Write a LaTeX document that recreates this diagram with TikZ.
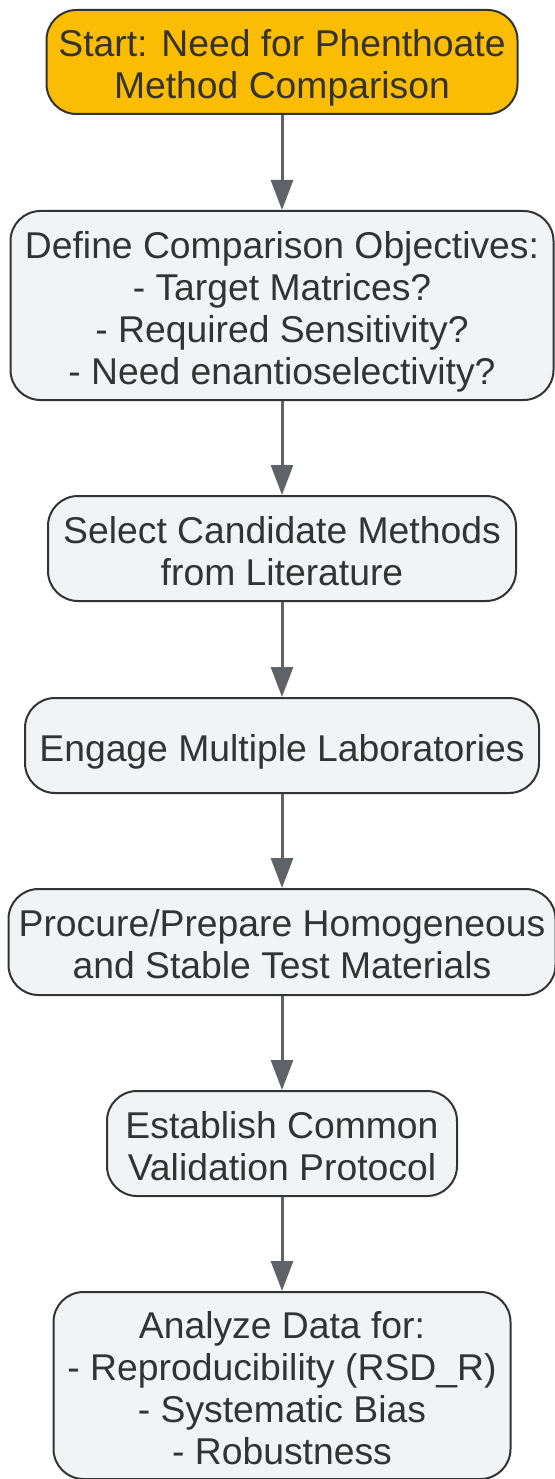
\documentclass[tikz,border=0pt]{standalone}
\usepackage{fontspec}
\setmainfont{Liberation Sans}
\usetikzlibrary{arrows.meta}
\definecolor{startfill}{HTML}{FBBC04}
\definecolor{boxfill}{HTML}{F1F3F4}
\definecolor{boxline}{HTML}{333333}
\definecolor{arrowgray}{HTML}{5F6368}
\tikzset{
  flowbox/.style={draw=boxline, line width=2pt, fill=boxfill, rounded corners=30pt,
    align=center, text=boxline, inner sep=0pt, font=\fontsize{37.3}{42}\selectfont,
    text depth=5.5pt},
  startbox/.style={flowbox, fill=startfill},
  oneline/.style={text height=36.5pt},
  twolines/.style={text height=78.5pt},
  fourlines/.style={text height=162.5pt},
  flowarrow/.style={draw=arrowgray, line width=3pt, -{Triangle[length=30pt,width=22pt]}}
}
\begin{document}
\begin{tikzpicture}[x=1pt,y=-1pt]
  \useasboundingbox (0,0) rectangle (554,1479);

  \node[startbox, twolines, minimum width=471pt, minimum height=104pt] (start) at (282,62)
    {Start: Need for Phenthoate\\Method Comparison};
  \node[flowbox, fourlines, minimum width=543pt, minimum height=189pt] (define) at (282,305.5)
    {Define Comparison Objectives:\\- Target Matrices?\\- Required Sensitivity?\\- Need enantioselectivity?};
  \node[flowbox, twolines, minimum width=468pt, minimum height=105pt] (select) at (282,548.5)
    {Select Candidate Methods\\from Literature};
  \node[flowbox, oneline, minimum width=514pt, minimum height=95pt] (engage) at (282,745.5)
    {Engage Multiple Laboratories};
  \node[flowbox, twolines, minimum width=547pt, minimum height=106pt] (procure) at (282,942)
    {Procure/Prepare Homogeneous\\and Stable Test Materials};
  \node[flowbox, twolines, minimum width=350pt, minimum height=105pt] (establish) at (282,1143.5)
    {Establish Common\\Validation Protocol};
  \node[flowbox, fourlines, minimum width=457pt, minimum height=187pt] (analyze) at (282,1385.5)
    {Analyze Data for:\\- Reproducibility (RSD\_R)\\- Systematic Bias\\- Robustness};

  \draw[flowarrow] (start) -- (define);
  \draw[flowarrow] (define) -- (select);
  \draw[flowarrow] (select) -- (engage);
  \draw[flowarrow] (engage) -- (procure);
  \draw[flowarrow] (procure) -- (establish);
  \draw[flowarrow] (establish) -- (analyze);
\end{tikzpicture}
\end{document}
